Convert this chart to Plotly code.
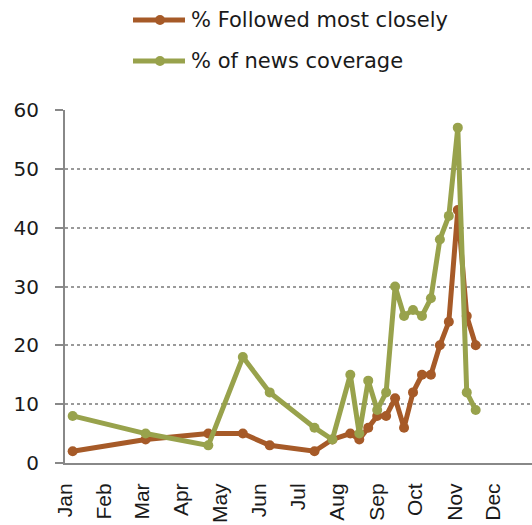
import plotly.graph_objects as go

# Weekly survey dates (2008)
dates = [
    "2008-01-07", "2008-03-04", "2008-04-22", "2008-05-19", "2008-06-09",
    "2008-07-14", "2008-07-28", "2008-08-11", "2008-08-18", "2008-08-25",
    "2008-09-01", "2008-09-08", "2008-09-15", "2008-09-22", "2008-09-29",
    "2008-10-06", "2008-10-13", "2008-10-20", "2008-10-27", "2008-11-03",
    "2008-11-10", "2008-11-17",
]
followed_most_closely = [2, 4, 5, 5, 3, 2, 4, 5, 4, 6, 8, 8, 11, 6, 12, 15, 15, 20, 24, 43, 25, 20]
news_coverage = [8, 5, 3, 18, 12, 6, 4, 15, 5, 14, 9, 12, 30, 25, 26, 25, 28, 38, 42, 57, 12, 9]

series_names = ["% Followed most closely", "% of news coverage"]
series_colors = ["#A65A28", "#98A24C"]
y_ticks = [0, 10, 20, 30, 40, 50, 60]

W, H = 532, 525
M = dict(l=65, r=0, t=110, b=62)
FONT = "DejaVu Sans"
XFONT = "Liberation Sans"

fig = go.Figure()
for name, vals, col in zip(series_names, [followed_most_closely, news_coverage], series_colors):
    fig.add_trace(go.Scatter(
        x=dates, y=vals, name=name, mode="lines+markers",
        line=dict(color=col, width=5),
        marker=dict(color=col, size=10),
        showlegend=False,
    ))

# Legend drawn as line-with-marker swatches beside text labels
pw = W - M["l"] - M["r"]
ph = H - M["t"] - M["b"]


def px_to_paper(px, py):
    return (px - M["l"]) / pw, (H - M["b"] - py) / ph


shapes = []
annotations = []
for i, (name, col) in enumerate(zip(series_names, series_colors)):
    yy = 20 + i * 41
    x0, y0 = px_to_paper(133, yy)
    x1, _ = px_to_paper(185, yy)
    xm, _ = px_to_paper(160, yy)
    shapes.append(dict(type="line", xref="paper", yref="paper", x0=x0, x1=x1, y0=y0, y1=y0,
                       line=dict(color=col, width=5)))
    shapes.append(dict(type="circle", xref="paper", yref="paper", xsizemode="pixel", ysizemode="pixel",
                       xanchor=xm, yanchor=y0, x0=-5, x1=5, y0=-5, y1=5,
                       fillcolor=col, line=dict(color=col, width=0)))
    tx, _ = px_to_paper(189, yy)
    annotations.append(dict(text=name, xref="paper", yref="paper", x=tx, y=y0,
                            xanchor="left", yanchor="middle", showarrow=False,
                            font=dict(family=FONT, size=21, color="#1a1a1a")))

fig.update_layout(
    width=W, height=H, margin=M,
    paper_bgcolor="white", plot_bgcolor="white",
    font=dict(family=FONT, size=20, color="#1a1a1a"),
    shapes=shapes, annotations=annotations,
    showlegend=False,
)
fig.update_xaxes(
    type="date", range=["2008-01-01", "2008-12-31"],
    tick0="2008-01-01", dtick="M1", tickformat="%b", tickangle=-90,
    showgrid=False, zeroline=False, automargin=False,
    showline=True, linecolor="#888888", linewidth=2,
    ticks="", ticklabelstandoff=10,
    tickfont=dict(family=XFONT, size=21, color="#1a1a1a"),
)
fig.update_yaxes(
    range=[0, 60], tickvals=y_ticks, automargin=False,
    showgrid=True, gridcolor="#9a9a9a", griddash="dot", gridwidth=1.5,
    zeroline=False, showline=True, linecolor="#888888", linewidth=2,
    ticks="outside", ticklen=8, tickcolor="#888888", tickwidth=2,
    ticklabelstandoff=12,
    tickfont=dict(family=FONT, size=20, color="#1a1a1a"),
)

fig.write_html("out.html")
